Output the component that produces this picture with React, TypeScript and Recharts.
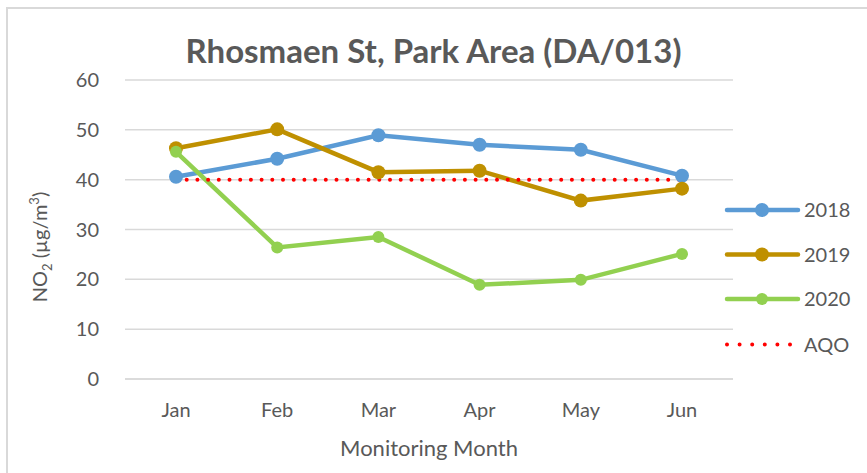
import React from 'react';
import { CartesianGrid, Legend, Line, LineChart, XAxis, YAxis } from 'recharts';

// Monthly NO2 readings (µg/m3)
const months = ['Jan', 'Feb', 'Mar', 'Apr', 'May', 'Jun'];
const y2018 = [40.6, 44.2, 48.9, 47.0, 46.0, 40.8];
const y2019 = [46.3, 50.1, 41.5, 41.8, 35.8, 38.2];
const y2020 = [45.6, 26.4, 28.5, 18.9, 19.9, 25.1];
const aqo = [40, 40, 40, 40, 40, 40];
const yTicks = [0, 10, 20, 30, 40, 50, 60];

const data = months.map((m, i) => ({
  month: m,
  '2018': y2018[i],
  '2019': y2019[i],
  '2020': y2020[i],
  AQO: aqo[i],
}));

const series = [
  { key: '2018', color: '#5B9BD5', r: 7 },
  { key: '2019', color: '#BF9000', r: 7 },
  { key: '2020', color: '#92D050', r: 6 },
];

const FONT = 'Lato, Carlito, "Open Sans", sans-serif';
const TEXT = '#595959';
const LEGEND_W = 130;

const renderLegend = () => (
  <svg width={LEGEND_W} height={180}>
    {series.map((s, i) => (
      <g key={s.key} transform={`translate(0, ${i * 44.5 + 15})`}>
        <line x1={3} x2={74} y1={0} y2={0} stroke={s.color} strokeWidth={4.5} strokeLinecap="round" />
        <circle cx={38} cy={0} r={s.r} fill={s.color} />
        <text x={80} y={0} dy="0.36em" fontSize={20} fill={TEXT} fontFamily={FONT}>{s.key}</text>
      </g>
    ))}
    <g transform={`translate(0, ${3 * 44.5 + 16})`}>
      <line x1={3} x2={74} y1={0} y2={0} stroke="#FF0000" strokeWidth={4} strokeLinecap="round" strokeDasharray="0 12.6" />
      <text x={80} y={0} dy="0.36em" fontSize={20} fill={TEXT} fontFamily={FONT}>AQO</text>
    </g>
  </svg>
);

const YLabel = () => (
  <text
    transform="translate(47, 247) rotate(-90)"
    textAnchor="middle"
    fontSize={20}
    fill={TEXT}
    fontFamily={FONT}
  >
    <tspan>NO</tspan>
    <tspan fontSize={13} dy={5}>2</tspan>
    <tspan dy={-5}>{' (µg/m'}</tspan>
    <tspan fontSize={13} dy={-8}>3</tspan>
    <tspan dy={8}>)</tspan>
  </text>
);

export default function App() {
  return (
    <div style={{ position: 'absolute', left: 0, top: 0, width: 867, height: 473, background: '#fff', overflow: 'hidden' }}>
      <div
        style={{
          position: 'absolute',
          left: 6,
          top: 7,
          width: 900,
          height: 500,
          border: '2px solid #d9d9d9',
          boxSizing: 'border-box',
        }}
      />
      <div
        style={{
          position: 'absolute',
          left: 0,
          width: 867,
          top: 31,
          textAlign: 'center',
          fontFamily: FONT,
          fontWeight: 700,
          fontSize: 33,
          color: TEXT,
          lineHeight: '38px',
        }}
      >
        Rhosmaen St, Park Area (DA/013)
      </div>
      <LineChart
        width={867}
        height={473}
        data={data}
        margin={{ top: 80, right: 134 - LEGEND_W, left: 0, bottom: 0 }}
        style={{ position: 'absolute', left: 0, top: 0 }}
      >
        <CartesianGrid vertical={false} stroke="#d9d9d9" strokeWidth={1.5} />
        <XAxis
          dataKey="month"
          height={94}
          padding={{ left: 51, right: 51 }}
          axisLine={{ stroke: '#d9d9d9', strokeWidth: 1.5 }}
          tickLine={false}
          tickMargin={18}
          tick={{ fontSize: 20, fill: TEXT, fontFamily: FONT }}
          label={{ value: 'Monitoring Month', position: 'insideBottom', offset: 17, fontSize: 22, fill: TEXT, fontFamily: FONT }}
        />
        <YAxis
          width={125}
          domain={[0, 60]}
          ticks={yTicks}
          interval={0}
          axisLine={false}
          tickLine={false}
          tickMargin={20}
          tick={{ fontSize: 20, fill: TEXT, fontFamily: FONT }}
          label={{ content: () => <YLabel /> }}
        />
        <Legend
          layout="vertical"
          verticalAlign="top"
          align="right"
          content={renderLegend}
          wrapperStyle={{ left: 724, top: 195, width: LEGEND_W }}
        />
        {series.map((s) => (
          <Line
            key={s.key}
            dataKey={s.key}
            stroke={s.color}
            strokeWidth={4.5}
            dot={{ r: s.r, fill: s.color, stroke: s.color, strokeWidth: 0 }}
            activeDot={false}
            isAnimationActive={false}
          />
        ))}
        <Line
          dataKey="AQO"
          stroke="#FF0000"
          strokeWidth={4}
          strokeLinecap="round"
          strokeDasharray="0 10.7"
          dot={false}
          activeDot={false}
          isAnimationActive={false}
        />
      </LineChart>
    </div>
  );
}
